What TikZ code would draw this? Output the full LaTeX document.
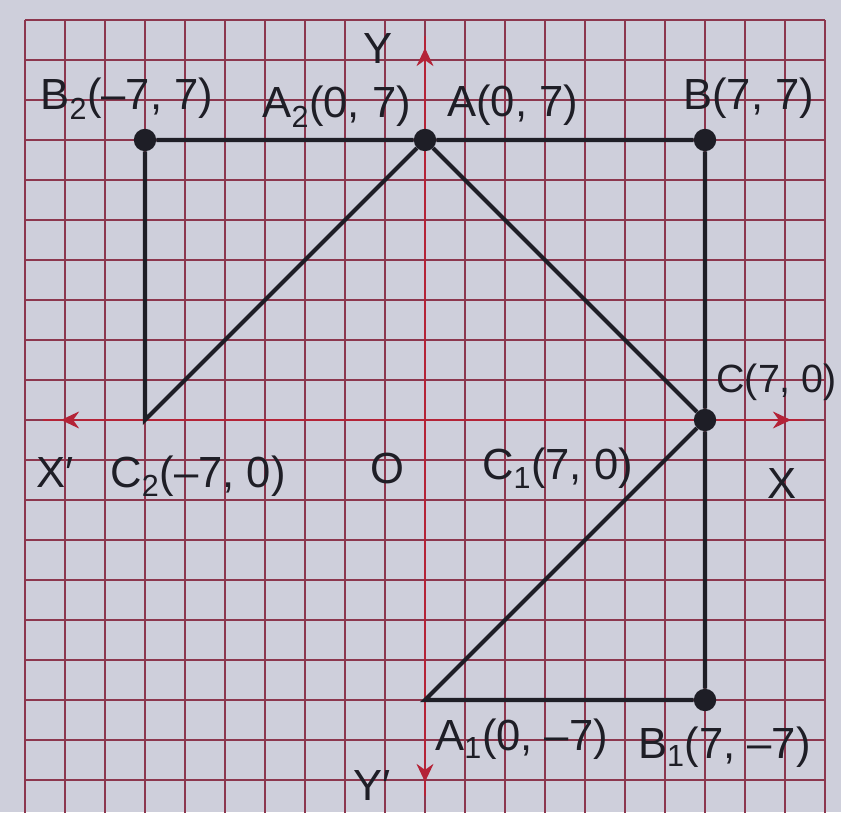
\documentclass[tikz,border=0pt]{standalone}
\usepackage{fontspec}
\setmainfont{Liberation Sans}
\usetikzlibrary{arrows.meta,positioning}

\definecolor{paper}{RGB}{206,207,219}
\definecolor{gridred}{RGB}{140,55,78}
\definecolor{axisred}{RGB}{180,35,55}
\definecolor{ink}{RGB}{30,30,38}

\begin{document}
\begin{tikzpicture}[
            pt/.style={circle, fill=ink, inner sep=0pt, minimum size=5.6mm},
            edge/.style={draw=ink, line width=3pt},
            axis/.style={draw=axisred, line width=2pt},
            tip/.style={-{Stealth[length=4.5mm,width=4.2mm]}},
            lab/.style={anchor=base west, inner sep=0pt, text=ink, font=\fontsize{31}{36}\selectfont}
        ]

% --- paper and grid ---
            \fill[paper] (-10.625,-9.8) rectangle (10.4,10.5);
            \useasboundingbox (-10.625,-9.8) rectangle (10.4,10.5);
            \draw[gridred, line width=1.4pt] (-10,-10) grid (10,10);

% --- axes ---
            \coordinate (O) at (0,0);
            \coordinate (xl) at (-9.55,0);
            \coordinate (xr) at (9.5,0);
            \coordinate (yt) at (0,9.6);
            \coordinate (yb) at (0,-9.4);
            \coordinate (xlt) at (-9.1,0);
            \coordinate (xrt) at (9.15,0);
            \coordinate (ytt) at (0,9.3);
            \coordinate (ybt) at (0,-9.05);
            \draw[axis] (xl) -- (xr);
            \draw[axis] (yb) -- (yt);
            \draw[axis, tip] (O) -- (xrt);
            \draw[axis, tip] (O) -- (xlt);
            \draw[axis, tip] (O) -- (ytt);
            \draw[axis, tip] (O) -- (ybt);

% --- points ---
            \node[pt] (B2) at (-7,7) {};
            \node[pt] (A) at (0,7) {};
            \node[pt] (B) at (7,7) {};
            \node[pt] (C) at (7,0) {};
            \node[pt] (B1) at (7,-7) {};
            \coordinate (A1) at (0,-7);
            \coordinate (C2) at (-7,0);

% --- figure ---
            \draw[edge] (B2) -- (A) -- (B) -- (C) -- (B1) -- (A1) -- (C);
            \draw[edge] (A) -- (C);
            \draw[edge] (A) -- (C2) -- (B2);

% --- axis labels ---
            \node[lab] (labY) at (-1.55,8.92) {Y};
            \node[lab] (labYp) at (-1.8,-9.5) {Y′};
            \node[lab] (labXp) at (-9.72,-1.7) {X′};
            \node[lab] (labX) at (8.55,-1.95) {X};
            \node[lab] (labO) at (-1.37,-1.58) {O};

% --- point labels ---
            \node[lab] (labB2) at (-9.62,7.75) {B\textsubscript{2}(--7, 7)};
            \node[lab] (labA2) at (-4.07,7.55) {A\textsubscript{2}(0, 7)};
            \node[lab] (labA) at (0.55,7.58) {A(0, 7)};
            \node[lab] (labB) at (6.45,7.75) {B(7, 7)};
            \node[lab, font=\fontsize{28}{34}\selectfont] (labC) at (7.28,0.68) {C(7, 0)};
            \node[lab] (labC1) at (1.42,-1.5) {C\textsubscript{1}(7, 0)};
            \node[lab] (labC2) at (-7.87,-1.68) {C\textsubscript{2}(--7, 0)};
            \node[lab] (labA1) at (0.25,-8.25) {A\textsubscript{1}(0, --7)};
            \node[lab] (labB1) at (5.32,-8.45) {B\textsubscript{1}(7, --7)};

        \end{tikzpicture}
\end{document}
